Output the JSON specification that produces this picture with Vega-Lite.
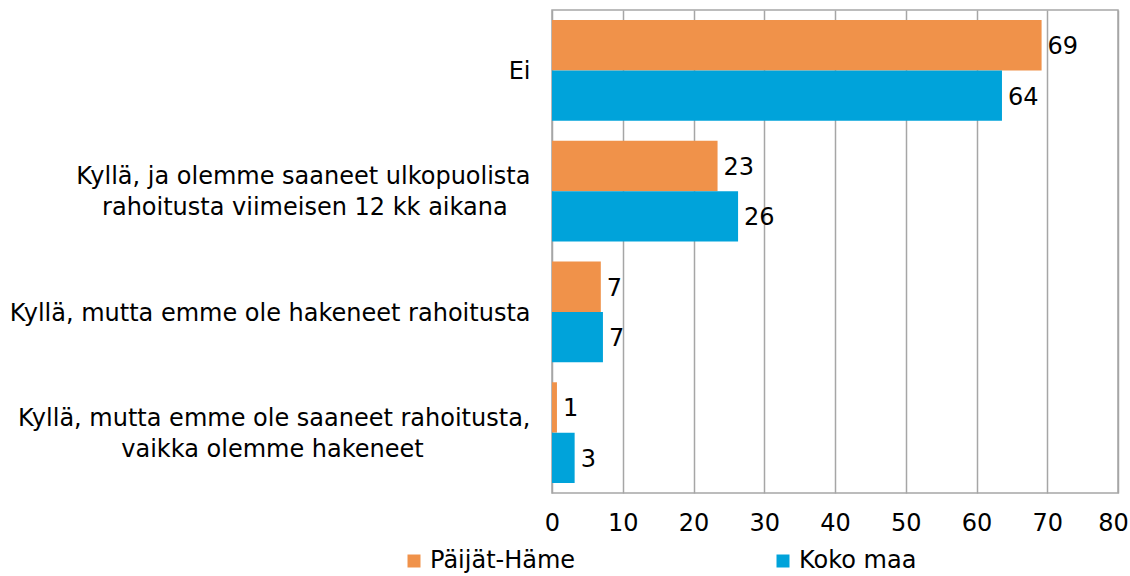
{
  "$schema": "https://vega.github.io/schema/vega-lite/v6.json",
  "width": 566,
  "height": 483,
  "autosize": {"type": "none"},
  "padding": {"left": 552, "top": 10, "right": 12, "bottom": 83},
  "background": "white",
  "config": {
    "font": "DejaVu Sans",
    "view": {"stroke": "#A6A6A6", "strokeWidth": 1.5}
  },
  "data": {
    "values": [
      {"kysymys": "Ei", "sarja": "Päijät-Häme", "arvo": 69.2},
      {"kysymys": "Ei", "sarja": "Koko maa", "arvo": 63.6},
      {"kysymys": "Kyllä, ja olemme saaneet ulkopuolista|rahoitusta viimeisen 12 kk aikana\u00a0\u00a0\u00a0\u200b", "sarja": "Päijät-Häme", "arvo": 23.4},
      {"kysymys": "Kyllä, ja olemme saaneet ulkopuolista|rahoitusta viimeisen 12 kk aikana\u00a0\u00a0\u00a0\u200b", "sarja": "Koko maa", "arvo": 26.3},
      {"kysymys": "Kyllä, mutta emme ole hakeneet rahoitusta", "sarja": "Päijät-Häme", "arvo": 6.9},
      {"kysymys": "Kyllä, mutta emme ole hakeneet rahoitusta", "sarja": "Koko maa", "arvo": 7.2},
      {"kysymys": "Kyllä, mutta emme ole saaneet rahoitusta,|vaikka olemme hakeneet\u00a0\u00a0\u00a0\u00a0\u00a0\u00a0\u00a0\u00a0\u00a0\u00a0\u00a0\u00a0\u00a0\u00a0\u200b", "sarja": "Päijät-Häme", "arvo": 0.7},
      {"kysymys": "Kyllä, mutta emme ole saaneet rahoitusta,|vaikka olemme hakeneet\u00a0\u00a0\u00a0\u00a0\u00a0\u00a0\u00a0\u00a0\u00a0\u00a0\u00a0\u00a0\u00a0\u00a0\u200b", "sarja": "Koko maa", "arvo": 3.2}
    ]
  },
  "encoding": {
    "y": {
      "field": "kysymys",
      "type": "nominal",
      "sort": null,
      "scale": {"paddingInner": 0.166, "paddingOuter": 0.083},
      "axis": {
        "title": null,
        "domain": false,
        "ticks": false,
        "labelExpr": "split(datum.label, '|')",
        "labelFontSize": 24,
        "labelColor": "#000000",
        "labelAlign": "right",
        "labelBaseline": {"condition": {"test": "indexof(datum.value, '|') >= 0", "value": "line-bottom"}, "value": "middle"},
        "labelOffset": 2,
        "labelPadding": 22,
        "labelLineHeight": 31,
        "labelLimit": 700
      }
    },
    "yOffset": {"field": "sarja", "type": "nominal", "sort": ["Päijät-Häme", "Koko maa"]},
    "x": {
      "field": "arvo",
      "type": "quantitative",
      "scale": {"domain": [0, 80], "nice": false},
      "axis": {
        "title": null,
        "values": [0, 10, 20, 30, 40, 50, 60, 70, 80],
        "grid": true,
        "gridColor": "#A6A6A6",
        "gridWidth": 1.5,
        "domain": false,
        "ticks": false,
        "labelFontSize": 24,
        "labelColor": "#000000",
        "labelPadding": 18,
        "labelFlush": false,
        "labelOffset": {"condition": {"test": "datum.value === 80", "value": -5}, "value": 0}
      }
    }
  },
  "layer": [
    {
      "mark": {"type": "bar"},
      "encoding": {
        "color": {
          "field": "sarja",
          "type": "nominal",
          "sort": ["Päijät-Häme", "Koko maa"],
          "scale": {"domain": ["Päijät-Häme", "Koko maa"], "range": ["#F0924A", "#00A3DA"]},
          "legend": {
            "title": null,
            "orient": "none",
            "direction": "horizontal",
            "legendX": -150,
            "legendY": 539,
            "padding": 0,
            "symbolType": "square",
            "symbolSize": 169,
            "symbolStrokeWidth": 0,
            "symbolOpacity": 1,
            "labelFontSize": 24,
            "labelColor": "#000000",
            "labelOffset": 4,
            "columnPadding": 195
          }
        }
      }
    },
    {
      "mark": {"type": "text", "align": "left", "baseline": "middle", "dx": 6, "dy": 2, "fontSize": 24, "color": "#000000"},
      "encoding": {
        "text": {"field": "arvo", "type": "quantitative", "format": ".0f"}
      }
    }
  ]
}
